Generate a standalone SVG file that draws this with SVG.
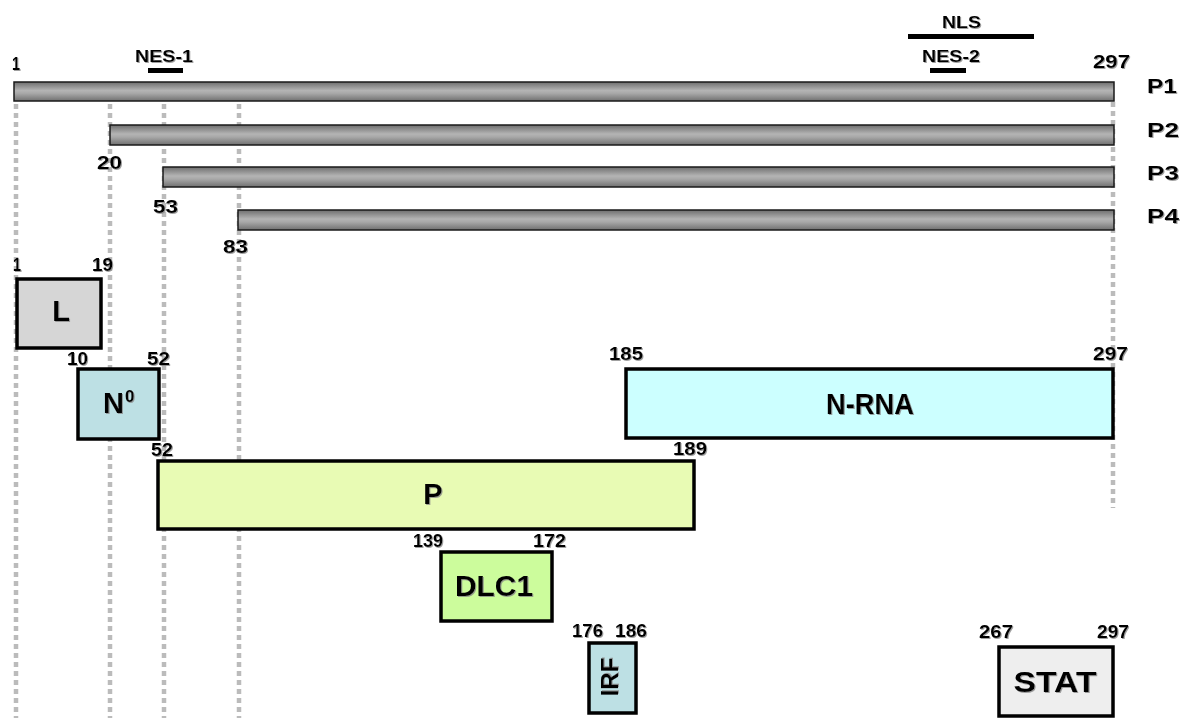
<svg xmlns="http://www.w3.org/2000/svg" width="1182" height="718" viewBox="0 0 1182 718">
<defs>
<linearGradient id="barg" x1="0" y1="0" x2="0" y2="1">
<stop offset="0" stop-color="#6e6e6e"/>
<stop offset="0.45" stop-color="#b4b4b4"/>
<stop offset="0.6" stop-color="#a8a8a8"/>
<stop offset="1" stop-color="#707070"/>
</linearGradient>
<filter id="sh" x="-10%" y="-10%" width="130%" height="130%">
<feDropShadow dx="1" dy="1" stdDeviation="0.4" flood-color="#888" flood-opacity="0.8"/>
</filter>
</defs>
<style>
text{font-family:"Liberation Sans",Arial,sans-serif;font-weight:bold;fill:#000;filter:url(#sh)}
.num{font-size:19px}
.lab{font-size:17px}
.pl{font-size:21px}
.big{font-size:29px;text-anchor:middle}
.bar{fill:url(#barg);stroke:#1a1a1a;stroke-width:1.5}
.box{stroke:#000;stroke-width:3.5}
.guide{stroke:#bbbbbb;stroke-width:4.5;stroke-dasharray:5 4;fill:none}
.seg{fill:#000}
</style>
<rect width="1182" height="718" fill="#fff"/>
<g id="connectors">
<line class="guide" x1="16" y1="104" x2="16" y2="718"/>
<line class="guide" x1="110" y1="104" x2="110" y2="718"/>
<line class="guide" x1="164" y1="104" x2="164" y2="718"/>
<line class="guide" x1="239" y1="104" x2="239" y2="718"/>
<line class="guide" x1="1113" y1="102" x2="1113" y2="508"/>
</g>
<g id="motifs">
<rect class="seg" x="908" y="34" width="126" height="5"/>
<text class="lab" x="942" y="28" textLength="39" lengthAdjust="spacingAndGlyphs">NLS</text>
<rect class="seg" x="148" y="68" width="35" height="5"/>
<text class="lab" x="135" y="62" textLength="58" lengthAdjust="spacingAndGlyphs">NES-1</text>
<rect class="seg" x="930" y="68" width="36" height="5"/>
<text class="lab" x="922" y="62" textLength="58" lengthAdjust="spacingAndGlyphs">NES-2</text>
</g>
<g id="P1">
<rect class="bar" x="14" y="82" width="1100" height="19"/>
<text class="num" x="12" y="70" textLength="8" lengthAdjust="spacingAndGlyphs">1</text>
<text class="num" x="1093" y="68" textLength="37" lengthAdjust="spacingAndGlyphs">297</text>
<text class="pl" x="1147" y="93" textLength="30" lengthAdjust="spacingAndGlyphs">P1</text>
</g>
<g id="P2">
<rect class="bar" x="110" y="125" width="1004" height="20"/>
<text class="num" x="97" y="169" textLength="25" lengthAdjust="spacingAndGlyphs">20</text>
<text class="pl" x="1147" y="137" textLength="32" lengthAdjust="spacingAndGlyphs">P2</text>
</g>
<g id="P3">
<rect class="bar" x="163" y="167" width="951" height="20"/>
<text class="num" x="153" y="213" textLength="25" lengthAdjust="spacingAndGlyphs">53</text>
<text class="pl" x="1147" y="180" textLength="32" lengthAdjust="spacingAndGlyphs">P3</text>
</g>
<g id="P4">
<rect class="bar" x="238" y="210" width="876" height="20"/>
<text class="num" x="223" y="253" textLength="25" lengthAdjust="spacingAndGlyphs">83</text>
<text class="pl" x="1147" y="223" textLength="32" lengthAdjust="spacingAndGlyphs">P4</text>
</g>
<g id="L">
<rect class="box" x="17" y="279" width="84" height="69" fill="#d6d6d6"/>
<text class="num" x="13" y="271" textLength="8" lengthAdjust="spacingAndGlyphs">1</text>
<text class="num" x="92" y="271" textLength="21" lengthAdjust="spacingAndGlyphs">19</text>
<text class="big" x="61" y="321">L</text>
</g>
<g id="N0">
<rect class="box" x="78" y="369" width="81" height="70" fill="#bde0e4"/>
<text class="num" x="67" y="365" textLength="21" lengthAdjust="spacingAndGlyphs">10</text>
<text class="num" x="147" y="365" textLength="23" lengthAdjust="spacingAndGlyphs">52</text>
<text x="103" y="413" style="font-size:29px">N<tspan dx="1" dy="-11" style="font-size:17px">0</tspan></text>
</g>
<g id="N-RNA">
<rect class="box" x="626" y="369" width="487" height="69" fill="#ccffff"/>
<text class="num" x="609" y="360" textLength="34" lengthAdjust="spacingAndGlyphs">185</text>
<text class="num" x="1093" y="360" textLength="35" lengthAdjust="spacingAndGlyphs">297</text>
<text class="big" x="870" y="414" textLength="88" lengthAdjust="spacingAndGlyphs">N-RNA</text>
</g>
<g id="P">
<rect class="box" x="158" y="461" width="536" height="68" fill="#e8fbb4"/>
<text class="num" x="151" y="456" textLength="22" lengthAdjust="spacingAndGlyphs">52</text>
<text class="num" x="673" y="455" textLength="34" lengthAdjust="spacingAndGlyphs">189</text>
<text class="big" x="433" y="504">P</text>
</g>
<g id="DLC1">
<rect class="box" x="441" y="552" width="111" height="69" fill="#ccfc9c"/>
<text class="num" x="413" y="547" textLength="30" lengthAdjust="spacingAndGlyphs">139</text>
<text class="num" x="533" y="547" textLength="33" lengthAdjust="spacingAndGlyphs">172</text>
<text class="big" x="494" y="596" textLength="78" lengthAdjust="spacingAndGlyphs">DLC1</text>
</g>
<g id="IRF">
<rect class="box" x="589" y="643" width="47" height="70" fill="#bde0e4"/>
<text class="num" x="572" y="637" textLength="31" lengthAdjust="spacingAndGlyphs">176</text>
<text class="num" x="615" y="637" textLength="32" lengthAdjust="spacingAndGlyphs">186</text>
<text transform="translate(618,677) rotate(-90)" x="0" y="0" style="font-size:24px;text-anchor:middle">IRF</text>
</g>
<g id="STAT">
<rect class="box" x="999" y="647" width="114" height="69" fill="#eeeeee"/>
<text class="num" x="979" y="638" textLength="34" lengthAdjust="spacingAndGlyphs">267</text>
<text class="num" x="1097" y="638" textLength="32" lengthAdjust="spacingAndGlyphs">297</text>
<text class="big" x="1055" y="692" textLength="83" lengthAdjust="spacingAndGlyphs">STAT</text>
</g>
</svg>
